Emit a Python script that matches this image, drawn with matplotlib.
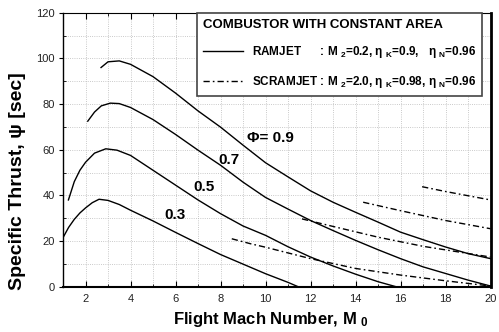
import matplotlib
matplotlib.use('Agg')
import matplotlib.pyplot as plt
from matplotlib.ticker import MultipleLocator

plt.rcParams['font.family'] = ['Liberation Sans', 'DejaVu Sans']
plt.rcParams['mathtext.fontset'] = 'custom'
plt.rcParams['mathtext.rm'] = 'Liberation Sans:bold'
plt.rcParams['mathtext.it'] = 'Liberation Sans:bold'
plt.rcParams['mathtext.bf'] = 'Liberation Sans:bold'

# ramjet curves (solid)
ram_x_03 = [1.0, 1.25, 1.5, 1.75, 2.0, 2.3, 2.6, 3.0, 3.5, 4, 5, 6, 7, 8, 9, 10, 11, 11.45]
ram_y_03 = [21.5, 26, 29.5, 32.3, 34.5, 36.8, 38.3, 37.8, 36, 33.5, 28.8, 23.8, 18.9, 14.1, 9.9, 5.7, 1.9, 0]
ram_x_05 = [1.24, 1.5, 1.75, 2.0, 2.4, 2.9, 3.4, 4, 5, 6, 7, 8, 9, 10, 11, 12, 13, 14, 15, 15.8]
ram_y_05 = [38, 46, 51, 54.5, 58.5, 60.4, 59.8, 57.5, 51, 44.5, 38, 32, 26.6, 22.5, 17.5, 13, 9.1, 5.5, 2.2, 0]
ram_x_07 = [2.1, 2.4, 2.7, 3.1, 3.5, 4, 5, 6, 7, 8, 9, 10, 11, 12, 13, 14, 15, 16, 17, 18, 19, 20]
ram_y_07 = [72.5, 76.5, 79.2, 80.4, 80.2, 78.5, 73.2, 66.7, 59.8, 53.2, 45.8, 39.1, 34, 29, 24.6, 20.3, 16.2, 12.3, 8.7, 5.8, 2.9, 0.3]
ram_x_09 = [2.69, 3.0, 3.5, 4, 5, 6, 7, 8, 9, 10, 11, 12, 13, 14, 15, 16, 17, 18, 19, 20]
ram_y_09 = [96, 98.5, 98.9, 97.4, 92, 84.8, 77, 69.9, 62, 54.3, 48.1, 42, 37, 32.6, 28.3, 23.9, 20.6, 17.4, 14.5, 12.3]

# scramjet curves (dash-dot)
scr_x_03 = [8.5, 9.34, 10, 12, 14, 16, 18, 20]
scr_y_03 = [21, 18.8, 17.3, 12.3, 8, 5.1, 2.6, 0.3]
scr_x_05 = [11.62, 13, 15, 17, 20]
scr_y_05 = [29.7, 26.4, 21.7, 17.7, 13]
scr_x_07 = [14.34, 16, 18, 20]
scr_y_07 = [37, 33.3, 29, 25.4]
scr_x_09 = [16.96, 18, 20]
scr_y_09 = [43.8, 41.7, 38]

phi_labels = ['0.3', '0.5', '0.7', '\u03a6= 0.9']
phi_label_x = [5.96, 7.27, 8.38, 10.2]
phi_label_y = [31.6, 43.8, 55.4, 65.1]

fig = plt.figure(figsize=(4.99, 3.32), dpi=100)
ax = fig.add_axes([0.1263, 0.1364, 0.8567, 0.8253])

dashdot = (0, (4.5, 2.2, 1.2, 2.2))
ramjets = [(ram_x_03, ram_y_03), (ram_x_05, ram_y_05), (ram_x_07, ram_y_07), (ram_x_09, ram_y_09)]
scramjets = [(scr_x_03, scr_y_03), (scr_x_05, scr_y_05), (scr_x_07, scr_y_07), (scr_x_09, scr_y_09)]
for i, (xx, yy) in enumerate(ramjets):
    ax.plot(xx, yy, color='black', lw=1.0,
            label='RAMJET      : M $_2$=0.2, \u03b7 $_K$=0.9,   \u03b7 $_N$=0.96' if i == 0 else None)
for i, (xx, yy) in enumerate(scramjets):
    ax.plot(xx, yy, color='black', lw=1.0, linestyle=dashdot,
            label='SCRAMJET : M $_2$=2.0, \u03b7 $_K$=0.98, \u03b7 $_N$=0.96' if i == 0 else None)

for lab, lx, ly in zip(phi_labels, phi_label_x, phi_label_y):
    ax.text(lx, ly, lab, fontsize=11, fontweight='bold', ha='center', va='center')

ax.set_xlim(1, 20)
ax.set_ylim(0, 120)
ax.xaxis.set_major_locator(MultipleLocator(2))
ax.xaxis.set_minor_locator(MultipleLocator(1))
ax.yaxis.set_major_locator(MultipleLocator(20))
ax.yaxis.set_minor_locator(MultipleLocator(10))
ax.grid(which='both', linestyle=':', color='#b8b8b8', lw=0.6)
ax.set_axisbelow(True)

ax.tick_params(axis='x', which='major', direction='in', length=4, pad=5, labelsize=8, labelcolor='#222222', top=True)
ax.tick_params(axis='x', which='minor', direction='in', length=2, top=True)
ax.tick_params(axis='y', which='major', direction='out', length=3, pad=3, labelsize=8, labelcolor='#222222')
ax.tick_params(axis='y', which='minor', direction='in', length=2)
ax.spines['left'].set_linewidth(1.0)
ax.spines['bottom'].set_linewidth(1.5)
ax.spines['right'].set_linewidth(2.0)
ax.spines['top'].set_linewidth(0.8)

ax.set_xlabel('Flight Mach Number, M $_0$', fontsize=12, fontweight='bold')
ax.xaxis.set_label_coords(0.487, -0.085)
ax.set_ylabel('Specific Thrust, \u03c8 [sec]', fontsize=14, fontweight='bold')
ax.yaxis.set_label_coords(-0.087, 0.386)

leg = ax.legend(loc='upper right', bbox_to_anchor=(0.981, 1.0), title='COMBUSTOR WITH CONSTANT AREA',
                title_fontproperties={'size': 9.5, 'weight': 'bold'}, alignment='left',
                prop={'size': 8.5, 'weight': 'bold'}, handlelength=3.4, handletextpad=0.8,
                borderpad=0.5, borderaxespad=0, labelspacing=1.15, fancybox=False,
                edgecolor='#444444', framealpha=1)
leg.get_frame().set_linewidth(1.2)

fig.savefig('out.png', dpi=100)
